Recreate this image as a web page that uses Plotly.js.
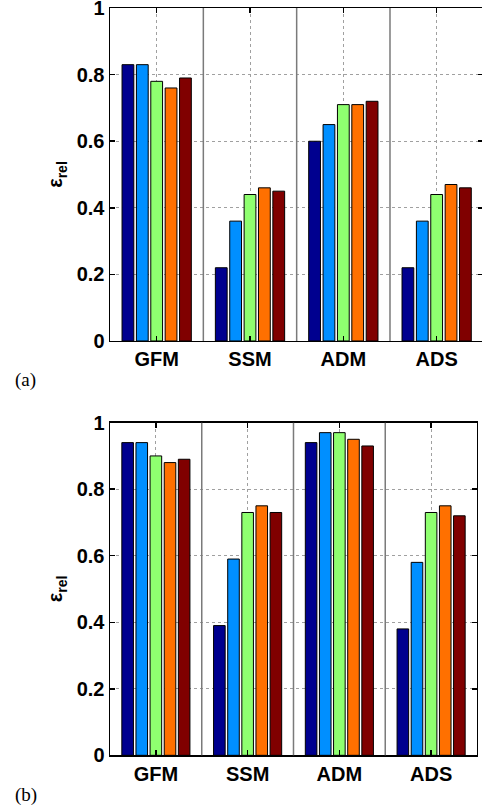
<!DOCTYPE html>
<html>
<head>
<meta charset="utf-8">
<script src="https://cdn.plot.ly/plotly-3.0.1.min.js"></script>
<style>
html,body{margin:0;padding:0;overflow:hidden;background:#fff;}
#chart{width:484px;height:808px;}
</style>
</head>
<body>
<div id="chart"></div>
<script>
const categories = ["GFM", "SSM", "ADM", "ADS"];
const yTicks = [0, 0.2, 0.4, 0.6, 0.8, 1];
const yTickLabels = ["0", "0.2", "0.4", "0.6", "0.8", "1"];

// Panel (a): 5 series over the 4 categories
const a_s1 = [0.83, 0.22, 0.60, 0.22];
const a_s2 = [0.83, 0.36, 0.65, 0.36];
const a_s3 = [0.78, 0.44, 0.71, 0.44];
const a_s4 = [0.76, 0.46, 0.71, 0.47];
const a_s5 = [0.79, 0.45, 0.72, 0.46];

// Panel (b)
const b_s1 = [0.94, 0.39, 0.94, 0.38];
const b_s2 = [0.94, 0.59, 0.97, 0.58];
const b_s3 = [0.90, 0.73, 0.97, 0.73];
const b_s4 = [0.88, 0.75, 0.95, 0.75];
const b_s5 = [0.89, 0.73, 0.93, 0.72];

const colors = ["#00008f", "#008fff", "#8fff70", "#ff7000", "#800000"];

const traces = [];
[a_s1, a_s2, a_s3, a_s4, a_s5].forEach((v, i) => traces.push({
  type: "bar", x: categories, y: v, xaxis: "x", yaxis: "y",
  marker: {color: colors[i], line: {color: "#000", width: 1}},
  showlegend: false, hoverinfo: "skip"
}));
[b_s1, b_s2, b_s3, b_s4, b_s5].forEach((v, i) => traces.push({
  type: "bar", x: categories, y: v, xaxis: "x2", yaxis: "y2",
  marker: {color: colors[i], line: {color: "#000", width: 1}},
  showlegend: false, hoverinfo: "skip"
}));

const tickFont = {family: "Liberation Sans, Arial, sans-serif", size: 20, color: "#000", weight: "bold"};

function xax(domain, anchor) {
  return {
    domain: domain, anchor: anchor, type: "category", range: [-0.5, 3.5],
    showline: true, mirror: "ticks", linecolor: "#000", linewidth: 1.5,
    ticks: "inside", ticklen: 5, tickcolor: "#000", tickwidth: 1.5,
    showgrid: true, gridcolor: "#a0a0a0", griddash: "dot", gridwidth: 1,
    tickfont: tickFont, zeroline: false, fixedrange: true,
    ticklabeloverflow: "allow"
  };
}
function yax(domain, anchor) {
  return {
    domain: domain, anchor: anchor, range: [0, 1],
    tickvals: yTicks, ticktext: yTickLabels,
    showline: true, mirror: "ticks", linecolor: "#000", linewidth: 1.5,
    ticks: "inside", ticklen: 5, tickcolor: "#000", tickwidth: 1.5,
    showgrid: true, gridcolor: "#a0a0a0", griddash: "dot", gridwidth: 1,
    tickfont: tickFont, zeroline: false, fixedrange: true,
    ticklabeloverflow: "allow",
    title: {text: "ε<sub>rel</sub>", font: tickFont, standoff: 8}
  };
}

const shapes = [];
[0.5, 1.5, 2.5].forEach(xv => {
  shapes.push({type: "line", xref: "x", yref: "y domain", x0: xv, x1: xv, y0: 0, y1: 1,
    line: {color: "#7a7a7a", width: 1.5}, layer: "above"});
  shapes.push({type: "line", xref: "x2", yref: "y2 domain", x0: xv, x1: xv, y0: 0, y1: 1,
    line: {color: "#7a7a7a", width: 1.5}, layer: "above"});
});

const layout = {
  width: 484, height: 808,
  margin: {l: 0, r: 0, t: 0, b: 0},
  paper_bgcolor: "#fff", plot_bgcolor: "#fff",
  barmode: "group", bargap: 0.23, bargroupgap: 0.18,
  xaxis: xax([0.2273, 0.9986], "y"),
  yaxis: yax([0.578, 0.990], "x"),
  xaxis2: xax([0.2273, 0.9855], "y2"),
  yaxis2: yax([0.0652, 0.4769], "x2"),
  shapes: shapes,
  annotations: [
    {text: "(a)", xref: "paper", yref: "paper", x: 13/484, y: 1 - 380/808,
     xanchor: "left", yanchor: "middle", showarrow: false,
     font: {family: "Liberation Serif, Times New Roman, serif", size: 19, color: "#000"}},
    {text: "(b)", xref: "paper", yref: "paper", x: 13/484, y: 1 - 795/808,
     xanchor: "left", yanchor: "middle", showarrow: false,
     font: {family: "Liberation Serif, Times New Roman, serif", size: 19, color: "#000"}}
  ]
};

Plotly.newPlot("chart", traces, layout, {displayModeBar: false, staticPlot: true});
</script>
</body>
</html>
